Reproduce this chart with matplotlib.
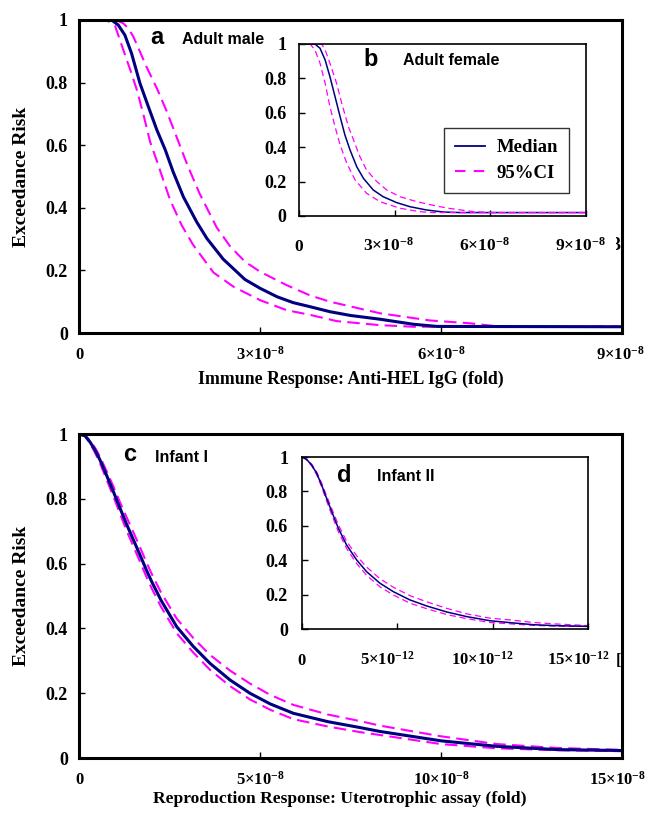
import matplotlib
matplotlib.use("Agg")
import matplotlib.pyplot as plt
from matplotlib.lines import Line2D
from matplotlib.transforms import ScaledTranslation, Bbox

# ---------------- data (x in units of 1e-8, panel d in 1e-12) ----------------
a_med_x = [0, 0.54, 0.65, 0.76, 0.87, 1.01, 1.15, 1.29, 1.43, 1.56, 1.73, 1.95, 2.12, 2.39, 2.75,
           3.0, 3.28, 3.55, 3.83, 4.16, 4.5, 4.99, 5.54, 5.93, 9.0]
a_med_y = [1.0, 1.0, 0.984, 0.952, 0.894, 0.798, 0.723, 0.649, 0.585, 0.515, 0.435, 0.355, 0.302, 0.236, 0.171,
           0.143, 0.116, 0.097, 0.084, 0.068, 0.056, 0.044, 0.028, 0.021, 0.02]
a_lo_x = [0, 0.46, 0.60, 0.76, 0.86, 0.96, 1.07, 1.18, 1.29, 1.40, 1.51, 1.70, 1.89, 2.23, 2.56, 3.0,
          3.44, 3.83, 4.27, 4.99, 5.54, 9.0]
a_lo_y = [1.0, 1.0, 0.98, 0.89, 0.835, 0.776, 0.696, 0.61, 0.55, 0.487, 0.425, 0.345, 0.282, 0.193, 0.148, 0.105,
          0.073, 0.058, 0.038, 0.025, 0.02, 0.02]
a_hi_x = [0, 0.61, 0.73, 0.82, 0.90, 1.01, 1.12, 1.29, 1.45, 1.62, 1.80, 2.0, 2.28, 2.50, 2.75, 3.0,
          3.44, 3.83, 4.16, 4.99, 5.82, 6.48, 6.76, 7.0, 9.0]
a_hi_y = [1.0, 1.0, 0.99, 0.973, 0.947, 0.899, 0.85, 0.782, 0.71, 0.625, 0.535, 0.445, 0.338, 0.278, 0.228, 0.196,
          0.153, 0.12, 0.10, 0.063, 0.04, 0.031, 0.025, 0.02, 0.02]

b_med_x = [0, 0.50, 0.66, 0.82, 0.97, 1.13, 1.29, 1.44, 1.60, 1.81, 2.02, 2.33, 2.64, 3.06, 3.48, 4.0,
           4.53, 5.05, 9.0]
b_med_y = [1.0, 1.0, 0.975, 0.907, 0.81, 0.694, 0.577, 0.471, 0.384, 0.287, 0.219, 0.151, 0.112, 0.078, 0.054, 0.035,
           0.023, 0.02, 0.02]
b_lo_x = [0, 0.35, 0.50, 0.66, 0.82, 0.97, 1.13, 1.29, 1.50, 1.76, 2.12, 2.54, 3.17, 3.79, 4.2, 9.0]
b_lo_y = [1.0, 1.0, 0.965, 0.888, 0.771, 0.636, 0.519, 0.413, 0.306, 0.209, 0.132, 0.083, 0.045, 0.025, 0.02, 0.02]
b_hi_x = [0, 0.71, 0.82, 0.97, 1.18, 1.34, 1.55, 1.71, 1.91, 2.12, 2.44, 2.76, 3.17, 3.70, 4.21, 4.65,
          5.47, 6.1, 9.0]
b_hi_y = [1.0, 1.0, 0.965, 0.888, 0.771, 0.655, 0.519, 0.442, 0.345, 0.267, 0.20, 0.15, 0.112, 0.083, 0.062, 0.046,
          0.025, 0.02, 0.02]

c_x = [0, 0.17, 0.30, 0.44, 0.58, 0.76, 0.95, 1.13, 1.32, 1.50, 1.68, 1.87, 2.01, 2.26, 2.70, 3.16, 3.62,
       4.17, 4.72, 5.28, 5.92, 6.88, 7.76, 8.31, 10.0, 11.54, 13.2, 15.0]
c_med = [1.0, 0.994, 0.976, 0.951, 0.92, 0.873, 0.822, 0.772, 0.72, 0.674, 0.628, 0.578, 0.544, 0.488, 0.405,
         0.344, 0.292, 0.241, 0.20, 0.167, 0.138, 0.112, 0.094, 0.082, 0.053, 0.036, 0.026, 0.023]
c_lo = [1.0, 0.993, 0.972, 0.943, 0.91, 0.86, 0.807, 0.755, 0.70, 0.654, 0.607, 0.557, 0.523, 0.468, 0.385,
        0.325, 0.272, 0.222, 0.181, 0.149, 0.12, 0.097, 0.08, 0.071, 0.043, 0.03, 0.024, 0.021]
c_hi = [1.0, 0.995, 0.98, 0.958, 0.93, 0.886, 0.838, 0.79, 0.742, 0.697, 0.652, 0.602, 0.568, 0.512, 0.43,
        0.37, 0.318, 0.27, 0.23, 0.195, 0.164, 0.134, 0.114, 0.10, 0.067, 0.043, 0.031, 0.025]

d_x = [0, 0.24, 0.51, 0.77, 1.03, 1.29, 1.56, 1.91, 2.34, 2.87, 3.39, 4.09, 4.79, 5.66, 6.54, 7.59, 8.64,
       9.86, 10.91, 12.13, 13.2, 15.0]
d_med = [1.0, 0.986, 0.953, 0.905, 0.837, 0.76, 0.682, 0.585, 0.488, 0.401, 0.333, 0.266, 0.217, 0.169, 0.134,
         0.099, 0.072, 0.048, 0.037, 0.025, 0.02, 0.015]
d_hi = [1.0, 0.988, 0.958, 0.913, 0.848, 0.775, 0.70, 0.605, 0.51, 0.425, 0.36, 0.292, 0.243, 0.194, 0.158,
        0.12, 0.088, 0.063, 0.053, 0.038, 0.03, 0.02]
d_lo = [1.0, 0.984, 0.948, 0.897, 0.826, 0.745, 0.664, 0.565, 0.468, 0.38, 0.312, 0.245, 0.198, 0.15, 0.118,
        0.084, 0.06, 0.038, 0.03, 0.021, 0.017, 0.015]

y_ticks = [0, 0.2, 0.4, 0.6, 0.8, 1.0]
y_ticklabels = ["0", "0.2", "0.4", "0.6", "0.8", "1"]
ab_xticks = [0, 3, 6, 9]
ab_xticklabels = ["0", "3×10$^{-8}$", "6×10$^{-8}$", "9×10$^{-8}$"]
c_xticks = [0, 5, 10, 15]
c_xticklabels = ["0", "5×10$^{-8}$", "10×10$^{-8}$", "15×10$^{-8}$"]
d_xticks = [0, 5, 10, 15]
d_xticklabels = ["0", "5×10$^{-12}$", "10×10$^{-12}$", "15×10$^{-12}$"]

# ---------------- style ----------------
plt.rcParams['font.family'] = ['Liberation Serif', 'DejaVu Serif']
plt.rcParams['font.weight'] = 'bold'
plt.rcParams['mathtext.fontset'] = 'custom'
plt.rcParams['mathtext.rm'] = 'Liberation Serif:bold'
plt.rcParams['mathtext.bf'] = 'Liberation Serif:bold'
plt.rcParams['mathtext.it'] = 'Liberation Serif:bold:italic'
plt.rcParams['mathtext.default'] = 'bf'

NAVY = '#000080'
MAG = '#FF00FF'
W, H = 646, 813
fig = plt.figure(figsize=(W / 100, H / 100), dpi=100)


def px_axes(l, t, r, b, **kw):
    return fig.add_axes([l / W, 1 - b / H, (r - l) / W, (b - t) / H], **kw)


def style(ax, xticks, xlabels, xmax, spine_lw, xpad, ypad, xfs=12, yfs=13, shift=0.0, last_shift=None):
    ax.set_xlim(0, xmax)
    ax.set_ylim(0, 1)
    ax.set_xticks(xticks)
    ax.set_xticklabels(xlabels)
    ax.set_yticks(y_ticks)
    ax.set_yticklabels(y_ticklabels)
    for s in ax.spines.values():
        s.set_linewidth(spine_lw)
        s.set_color('black')
    ax.tick_params(axis='both', direction='in', length=4, width=1)
    ax.tick_params(axis='x', pad=xpad, labelsize=xfs)
    ax.tick_params(axis='y', pad=ypad, labelsize=yfs)
    labs = ax.get_xticklabels()
    for i, lab in enumerate(labs):
        lab.set_verticalalignment('baseline')
        lab.set_fontweight('bold')
        dx = shift if i > 0 else 0.0
        if last_shift is not None and i == len(labs) - 1:
            dx = last_shift
        if dx:
            lab.set_transform(lab.get_transform() + ScaledTranslation(dx, 0, fig.dpi_scale_trans))
    for lab in ax.get_yticklabels():
        lab.set_fontweight('bold')


sans = ['Liberation Sans', 'DejaVu Sans']

# ---------------- panel a ----------------
ax_a = px_axes(79, 20, 622, 333)
ax_a.plot(a_lo_x, a_lo_y, color=MAG, lw=1.5, ls=(0, (6, 3)))
ax_a.plot(a_hi_x, a_hi_y, color=MAG, lw=1.5, ls=(0, (6, 3)))
ax_a.plot(a_med_x, a_med_y, color=NAVY, lw=2.2)
style(ax_a, ab_xticks, ab_xticklabels, 9, 2.2, 19, 8, last_shift=-0.02)
ax_a.set_ylabel("Exceedance Risk", fontsize=14, fontweight='bold')
ax_a.yaxis.set_label_coords(-0.09, 0.5)
ax_a.set_xlabel("Immune Response: Anti-HEL IgG (fold)", fontsize=12.8, fontweight='bold')
ax_a.xaxis.set_label_coords(0.5, -0.12)
fig.text(157 / W, 1 - 38 / H, "a", family=sans, fontsize=17, fontweight='bold', ha='center', va='center')
fig.text(182 / W, 1 - 44 / H, "Adult male", family=sans, fontsize=11.5, fontweight='bold', ha='left', va='baseline')

# ---------------- panel b (inset) ----------------
ax_b = px_axes(299, 44, 586, 216, zorder=3)
ax_b.set_facecolor('white')
ax_b.plot(b_med_x, b_med_y, color=NAVY, lw=1.1)
ax_b.plot(b_lo_x, b_lo_y, color=MAG, lw=0.9, ls=(0, (5, 3)))
ax_b.plot(b_hi_x, b_hi_y, color=MAG, lw=0.9, ls=(0, (5, 3)))
style(ax_b, ab_xticks, ab_xticklabels, 9, 1.2, 25, 9, xfs=12.5, shift=-0.06)
fig.text(371 / W, 1 - 59 / H, "b", family=sans, fontsize=17, fontweight='bold', ha='center', va='center')
fig.text(403 / W, 1 - 65 / H, "Adult female", family=sans, fontsize=11.5, fontweight='bold', ha='left', va='baseline')
h_med = Line2D([], [], color=NAVY, lw=1.3)
h_ci = Line2D([], [], color=MAG, lw=1.5, ls=(0, (5, 4)))
leg = ax_b.legend([h_med, h_ci], ["Median", "95%CI"], loc='upper left',
                  bbox_to_anchor=((444 - 299) / 287, (216 - 128) / 172),
                  borderaxespad=0, frameon=True, fancybox=False, edgecolor='black',
                  prop={'family': 'Liberation Serif', 'weight': 'bold', 'size': 13.5},
                  handlelength=1.6, handletextpad=0.6, labelspacing=0.45, borderpad=0.6)
leg.get_frame().set_linewidth(1.0)

# clipped label fragment at the right of inset b
t_b = fig.text(611 / W, 1 - 250 / H, "3", fontsize=13, fontweight='bold', ha='left', va='baseline')
t_b.set_clip_box(Bbox([[616, H - 262], [621, H - 230]]))
t_b.set_clip_on(True)

# ---------------- panel c ----------------
ax_c = px_axes(79, 434, 622, 758)
ax_c.plot(c_x, c_lo, color=MAG, lw=1.5, ls=(0, (6, 3)))
ax_c.plot(c_x, c_hi, color=MAG, lw=1.5, ls=(0, (6, 3)))
ax_c.plot(c_x, c_med, color=NAVY, lw=2.2)
style(ax_c, c_xticks, c_xticklabels, 15, 2.2, 19, 8, last_shift=-0.05)
ax_c.set_ylabel("Exceedance Risk", fontsize=14, fontweight='bold')
ax_c.yaxis.set_label_coords(-0.09, 0.5)
ax_c.set_xlabel("Reproduction Response: Uterotrophic assay (fold)", fontsize=12.6, fontweight='bold')
ax_c.xaxis.set_label_coords(0.48, -0.102)
fig.text(130 / W, 1 - 454 / H, "c", family=sans, fontsize=17, fontweight='bold', ha='center', va='center')
fig.text(155 / W, 1 - 462 / H, "Infant I", family=sans, fontsize=11.5, fontweight='bold', ha='left', va='baseline')

# ---------------- panel d (inset) ----------------
ax_d = px_axes(302, 457, 588, 629, zorder=3)
ax_d.set_facecolor('white')
ax_d.plot(d_x, d_lo, color=MAG, lw=0.9, ls=(0, (5, 3)))
ax_d.plot(d_x, d_hi, color=MAG, lw=0.9, ls=(0, (5, 3)))
ax_d.plot(d_x, d_med, color=NAVY, lw=1.1)
style(ax_d, d_xticks, d_xticklabels, 15, 1.2, 26, 10, xfs=12, shift=-0.10)
fig.text(344 / W, 1 - 475 / H, "d", family=sans, fontsize=17, fontweight='bold', ha='center', va='center')
fig.text(377 / W, 1 - 481 / H, "Infant II", family=sans, fontsize=11.5, fontweight='bold', ha='left', va='baseline')

t_d = fig.text(616 / W, 1 - 665 / H, "[", fontsize=12, fontweight='bold', ha='left', va='baseline')
t_d.set_clip_box(Bbox([[616, H - 676], [621, H - 645]]))
t_d.set_clip_on(True)

fig.savefig("out.png", dpi=100)
